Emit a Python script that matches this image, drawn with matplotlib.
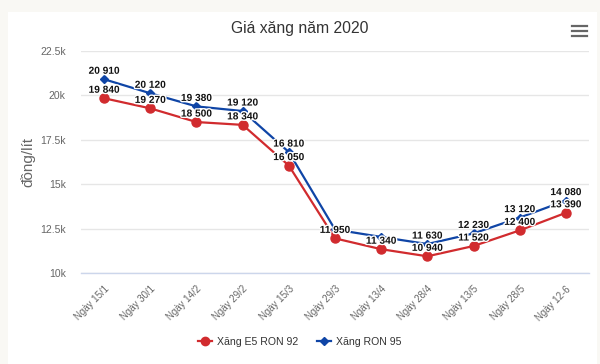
import matplotlib
matplotlib.use("Agg")
import matplotlib.pyplot as plt
from matplotlib.lines import Line2D
from matplotlib.patches import Rectangle
import matplotlib.patheffects as pe
from matplotlib.ticker import FuncFormatter

plt.rcParams['font.family'] = ['Liberation Sans', 'DejaVu Sans']

categories = ["Ngày 15/1", "Ngày 30/1", "Ngày 14/2", "Ngày 29/2", "Ngày 15/3", "Ngày 29/3",
              "Ngày 13/4", "Ngày 28/4", "Ngày 13/5", "Ngày 28/5", "Ngày 12-6"]
e5_ron92 = [19840, 19270, 18500, 18340, 16050, 11950, 11340, 10940, 11520, 12400, 13390]
ron95 = [20910, 20120, 19380, 19120, 16810, 12450, 12030, 11630, 12230, 13120, 14080]
ron95_hidden_labels = [5, 6]
yticks = [10000, 12500, 15000, 17500, 20000, 22500]

W, H = 600, 364
fig = plt.figure(figsize=(W / 100, H / 100), dpi=100)
fig.patch.set_facecolor('#f9f8f4')
bg = Rectangle((8 / W, 0), (597 - 8) / W, (H - 12) / H, transform=fig.transFigure,
               facecolor='white', edgecolor='none', zorder=-10)
fig.add_artist(bg)

ax = fig.add_axes([81 / W, (H - 273) / H, (589 - 81) / W, (273 - 51) / H])
ax.set_zorder(1)
ax.patch.set_alpha(0)

red = '#d12b2e'
blue = '#0f45a6'
x = list(range(len(categories)))
ax.plot(x, e5_ron92, color=red, lw=1.6, marker='o', ms=6.5, zorder=3, clip_on=False)
ax.plot(x, ron95, color=blue, lw=1.6, marker='D', ms=4, zorder=4, clip_on=False)

ax.set_xlim(-0.5, len(categories) - 0.5)
ax.set_ylim(10000, 22500)
ax.set_yticks(yticks)
ax.yaxis.set_major_formatter(FuncFormatter(lambda v, p: (f"{v/1000:g}k")))
ax.grid(axis='y', color='#e6e6e6', lw=1)
ax.set_axisbelow(True)
for s in ['top', 'right', 'left']:
    ax.spines[s].set_visible(False)
ax.spines['bottom'].set_color('#ccd6eb')
ax.spines['bottom'].set_linewidth(1)
ax.tick_params(axis='y', length=0, pad=11, labelsize=7.5, labelcolor='#666666')
ax.set_xticks(x)
ax.set_xticklabels(categories, rotation=45, ha='right', rotation_mode='anchor')
ax.tick_params(axis='x', length=0, pad=8, labelsize=7, labelcolor='#666666')

ax.set_ylabel('đồng/lít', fontsize=11, color='#666666')
ax.yaxis.set_label_coords(-(81 - 35) / (589 - 81), 0.5)

def fmt(v):
    return f"{v:,}".replace(',', ' ')

outline = [pe.withStroke(linewidth=2, foreground='white')]
for i, v in enumerate(e5_ron92):
    ax.annotate(fmt(v), (i, v), xytext=(0, 2.5), textcoords='offset points', ha='center', va='bottom',
                fontsize=7.3, fontweight='bold', color='#111111', path_effects=outline, zorder=6)
for i, v in enumerate(ron95):
    if i in ron95_hidden_labels:
        continue
    ax.annotate(fmt(v), (i, v), xytext=(0, 2.5), textcoords='offset points', ha='center', va='bottom',
                fontsize=7.3, fontweight='bold', color='#111111', path_effects=outline, zorder=6)

fig.text(0.5, 1 - 29 / H, 'Giá xăng năm 2020', ha='center', va='center', fontsize=11.3, color='#333333')

# menu icon
for yy in [26, 31, 35.5]:
    fig.add_artist(Line2D([572 / W, 587 / W], [1 - yy / H, 1 - yy / H], color='#666666', lw=1.6,
                          transform=fig.transFigure))

handles = [Line2D([], [], color=red, lw=1.6, marker='o', ms=6),
           Line2D([], [], color=blue, lw=1.6, marker='D', ms=4)]
fig.legend(handles, ['Xăng E5 RON 92', 'Xăng RON 95'], loc='center', bbox_to_anchor=(0.5, 1 - 342 / H),
           ncol=2, frameon=False, labelcolor='#333333', handlelength=1.3,
           columnspacing=1.8, handletextpad=0.5, prop={'size': 7.6})

fig.savefig('out.png', dpi=100, facecolor=fig.get_facecolor())
